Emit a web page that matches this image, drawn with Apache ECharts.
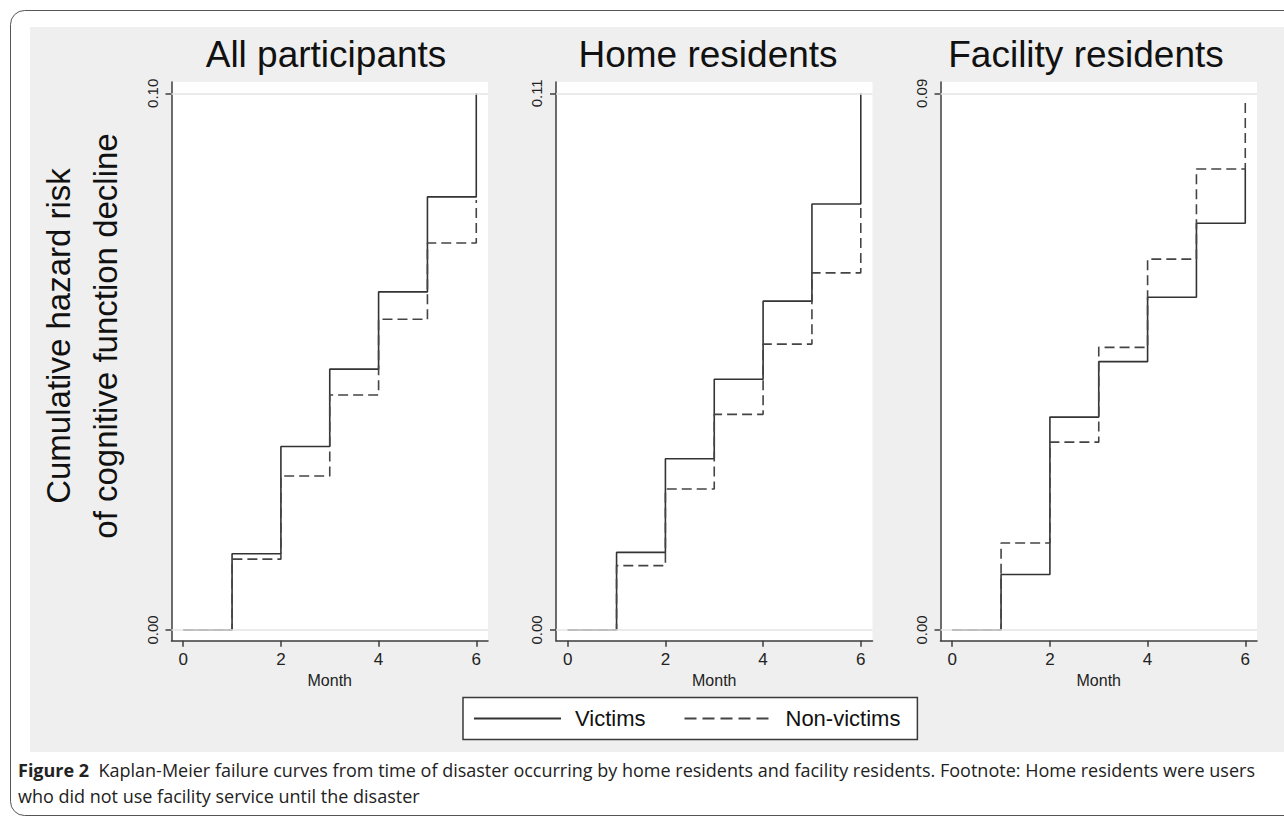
<!DOCTYPE html>
<html><head><meta charset="utf-8">
<script src="https://cdn.jsdelivr.net/npm/echarts@6/dist/echarts.min.js"></script>
<style>html,body{margin:0;padding:0;background:#fff}#c{width:1284px;height:818px}</style>
</head><body><div id="c"></div>
<script>
// ---- data ----
const months = [0, 1, 2, 3, 4, 5, 6];
const xTickValues = [0, 2, 4, 6];
const panelTitles = ['All participants', 'Home residents', 'Facility residents'];
const yTopTicks = [0.10, 0.11, 0.09];
const allVictims     = [0, 0.0142, 0.0342, 0.0486, 0.0630, 0.0807, 0.1000];
const allNonVictims  = [0, 0.0132, 0.0287, 0.0438, 0.0579, 0.0721, 0.0801];
const homeVictims    = [0, 0.0159, 0.0351, 0.0514, 0.0674, 0.0873, 0.1100];
const homeNonVictims = [0, 0.0132, 0.0289, 0.0442, 0.0586, 0.0732, 0.0872];
const facVictims     = [0, 0.0093, 0.0357, 0.0450, 0.0558, 0.0682, 0.0773];
const facNonVictims  = [0, 0.0146, 0.0315, 0.0474, 0.0622, 0.0773, 0.0890];
const seriesNames = ['Victims', 'Non-victims'];
const yAxisTitle = 'Cumulative hazard risk\nof cognitive function decline';
const xAxisTitle = 'Month';
const captionBold = 'Figure 2';
const captionLine1 = 'Kaplan-Meier failure curves from time of disaster occurring by home residents and facility residents. Footnote: Home residents were users';
const captionLine2 = 'who did not use facility service until the disaster';

const panelVictims = [allVictims, homeVictims, facVictims];
const panelNonVictims = [allNonVictims, homeNonVictims, facNonVictims];

// ---- layout ----
const FONT = '"Liberation Sans", Arial, Helvetica, sans-serif';
const CAPFONT = '"Open Sans", "Noto Sans", sans-serif';
const CAPSIZE = 18;
const gridLefts = [171.5, 556, 940.5];
const titleCenters = [326, 708, 1086];
const gridTop = 82, gridW = 316.5, gridH = 558.7;
const axisColor = '#3c3c3c';

const pairs = (ys) => months.map((m, k) => [m, ys[k]]);

const grids = [], xAxes = [], yAxes = [], series = [], graphics = [];

graphics.push({type: 'rect', z: -100, silent: true,
  shape: {x: 10.5, y: 10.5, width: 1300, height: 805, r: 14},
  style: {fill: '#fff', stroke: '#555', lineWidth: 1}});
graphics.push({type: 'rect', z: -99, silent: true,
  shape: {x: 30, y: 27, width: 1260, height: 725},
  style: {fill: '#efefef'}});

panelTitles.forEach((t, i) => {
  const top = yTopTicks[i];
  grids.push({left: gridLefts[i], top: gridTop, width: gridW, height: gridH,
    show: true, backgroundColor: '#fff', borderWidth: 0});
  xAxes.push({type: 'value', gridIndex: i, min: -0.24, max: 6.24,
    name: xAxisTitle, nameLocation: 'middle', nameGap: 29,
    nameTextStyle: {fontFamily: FONT, fontSize: 16, color: '#222'},
    axisLine: {onZero: false, lineStyle: {color: axisColor, width: 1.5}},
    axisTick: {customValues: xTickValues, length: 6, lineStyle: {color: axisColor, width: 1.5}},
    axisLabel: {customValues: xTickValues, margin: 10, fontFamily: FONT, fontSize: 17, color: '#222'},
    splitLine: {show: false}});
  yAxes.push({type: 'value', gridIndex: i, min: -top * 0.01994, max: top * 1.0211,
    axisLine: {show: true, onZero: false, lineStyle: {color: axisColor, width: 1.5}},
    axisTick: {show: true, customValues: [0, top], length: 6, lineStyle: {color: axisColor, width: 1.5}},
    axisLabel: {customValues: [0, top], rotate: 90, margin: 12, fontFamily: FONT, fontSize: 15, color: '#222',
      formatter: v => Number(v).toFixed(2)},
    splitLine: {show: false}});
  series.push({type: 'line', name: 'grid-' + i, xAxisIndex: i, yAxisIndex: i, data: [], silent: true, z: 1,
    markLine: {silent: true, symbol: ['none', 'none'], label: {show: false}, animation: false,
      lineStyle: {color: '#e4e4e4', width: 1.5, type: 'solid'},
      emphasis: {disabled: true},
      data: [{yAxis: 0}, {yAxis: top}]}});
  series.push({type: 'line', name: seriesNames[1], xAxisIndex: i, yAxisIndex: i, step: 'end',
    data: pairs(panelNonVictims[i]), symbol: 'none', z: 3, animation: false,
    lineStyle: {color: '#444', width: 1.6, type: [10, 5]}, itemStyle: {color: '#444'}});
  series.push({type: 'line', name: seriesNames[0], xAxisIndex: i, yAxisIndex: i, step: 'end',
    data: pairs(panelVictims[i]), symbol: 'none', z: 2, animation: false,
    lineStyle: {color: '#333', width: 1.6, type: 'solid'}, itemStyle: {color: '#333'}});
  graphics.push({type: 'text', x: titleCenters[i], y: 54, z: 10,
    style: {text: t, fontFamily: FONT, fontSize: 37, fill: '#111',
      align: 'center', verticalAlign: 'middle', textAlign: 'center', textVerticalAlign: 'middle'}});
});

graphics.push({type: 'text', x: 81.5, y: 336, rotation: Math.PI / 2, z: 10,
  style: {text: yAxisTitle, fontFamily: FONT, fontSize: 33, lineHeight: 47, fill: '#111',
    align: 'center', verticalAlign: 'middle', textAlign: 'center', textVerticalAlign: 'middle'}});
graphics.push({type: 'text', x: 18, y: 770, z: 10,
  style: {text: '{b|' + captionBold + '}  ' + captionLine1, fontFamily: CAPFONT, fontSize: CAPSIZE, fill: '#222',
    align: 'left', verticalAlign: 'middle', textAlign: 'left', textVerticalAlign: 'middle',
    rich: {b: {fontFamily: CAPFONT, fontSize: CAPSIZE, fontWeight: 'bold', fill: '#222', color: '#222'}}}});
graphics.push({type: 'text', x: 18, y: 796, z: 10,
  style: {text: captionLine2, fontFamily: CAPFONT, fontSize: CAPSIZE, fill: '#222',
    align: 'left', verticalAlign: 'middle', textAlign: 'left', textVerticalAlign: 'middle'}});

const chart = echarts.init(document.getElementById('c'), null, {renderer: 'svg'});
chart.setOption({
  animation: false,
  backgroundColor: '#fff',
  grid: grids, xAxis: xAxes, yAxis: yAxes, series: series,
  legend: {left: 463, top: 697.5, orient: 'horizontal', selectedMode: false,
    data: [{name: seriesNames[0]}, {name: seriesNames[1], lineStyle: {type: [12, 6]}}],
    itemWidth: 87, itemHeight: 14, itemGap: 38, padding: [9, 17, 9, 10],
    itemStyle: {opacity: 0},
    borderColor: '#3a3a3a', borderWidth: 1.5, backgroundColor: '#fff',
    textStyle: {fontFamily: FONT, fontSize: 22, color: '#111', lineHeight: 24, padding: [0, 0, 0, 9]}},
  graphic: graphics
});
</script></body></html>
